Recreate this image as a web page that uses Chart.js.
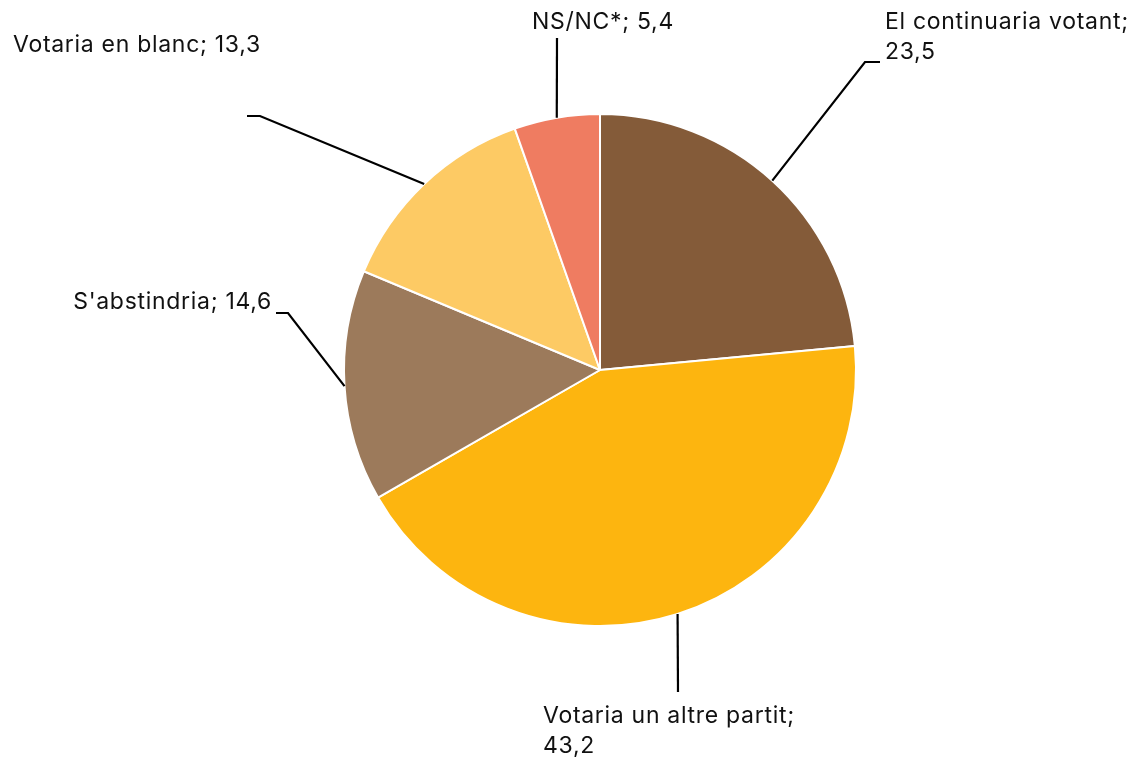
<!DOCTYPE html>
<html>
<head>
<meta charset="utf-8">
<script src="https://cdn.jsdelivr.net/npm/chart.js@4"></script>
<style>
    html, body { margin: 0; padding: 0; background: #fff; }
    #wrap { width: 1138px; height: 758px; }
</style>
</head>
<body>
<div id="wrap"><canvas id="pieChart" width="1138" height="758"></canvas></div>
<script>
const categories = ["El continuaria votant", "Votaria un altre partit", "S'abstindria", "Votaria en blanc", "NS/NC*"];
const values = [23.5, 43.2, 14.6, 13.3, 5.4];
const colors = ["#845B39", "#FDB50F", "#9C7A5B", "#FDCA64", "#EF7C61"];

// leader line bends and label positions, one per slice
const callouts = [
    { bend: [[865, 62], [880, 62]], lines: ["El continuaria votant;", "23,5"], x: 885, y: 22, align: "left" },
    { bend: [[678, 692]], lines: ["Votaria un altre partit;", "43,2"], x: 543, y: 716, align: "left" },
    { bend: [[288, 313], [276, 313]], lines: ["S'abstindria; 14,6"], x: 272, y: 302, align: "right" },
    { bend: [[260, 116], [247, 116]], lines: ["Votaria en blanc; 13,3"], x: 13, y: 45, align: "left" },
    { bend: [[557, 38]], lines: ["NS/NC*; 5,4"], x: 532, y: 22, align: "left" }
];

const calloutPlugin = {
    id: "callouts",
    afterDatasetsDraw(chart) {
        const ctx = chart.ctx;
        const arcs = chart.getDatasetMeta(0).data;
        ctx.save();
        ctx.strokeStyle = "#000";
        ctx.lineWidth = 2.2;
        ctx.fillStyle = "#111";
        ctx.font = "23px Inter";
        ctx.letterSpacing = "0.7px";
        ctx.textBaseline = "middle";
        arcs.forEach((arc, i) => {
            const mid = (arc.startAngle + arc.endAngle) / 2;
            const ax = arc.x + Math.cos(mid) * arc.outerRadius;
            const ay = arc.y + Math.sin(mid) * arc.outerRadius;
            const c = callouts[i];
            ctx.beginPath();
            ctx.moveTo(ax, ay);
            c.bend.forEach(p => ctx.lineTo(p[0], p[1]));
            ctx.stroke();
            ctx.textAlign = c.align;
            c.lines.forEach((t, k) => ctx.fillText(t, c.x, c.y + k * 30));
        });
        ctx.restore();
    }
};

new Chart(document.getElementById("pieChart"), {
    type: "pie",
    data: {
        labels: categories,
        datasets: [{
            data: values,
            backgroundColor: colors,
            borderColor: "#fff",
            borderWidth: 2
        }]
    },
    options: {
        responsive: false,
        animation: false,
        layout: { padding: { top: 113, bottom: 131, left: 343, right: 281 } },
        plugins: {
            legend: { display: false },
            tooltip: { enabled: false }
        }
    },
    plugins: [calloutPlugin]
});
</script>
</body>
</html>
